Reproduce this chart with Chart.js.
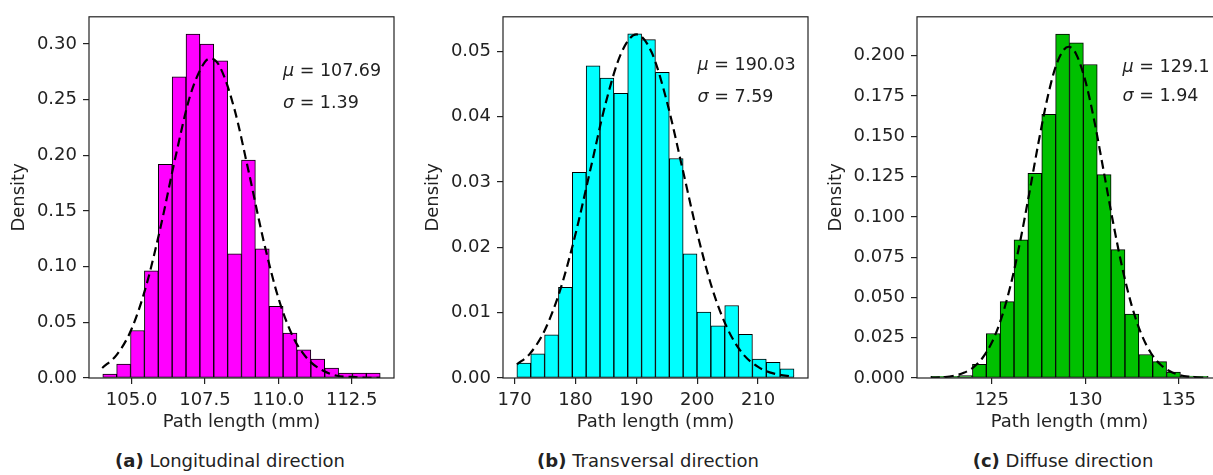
<!DOCTYPE html>
<html>
<head>
<meta charset="utf-8">
<script src="https://cdn.jsdelivr.net/npm/chart.js@4.4.1/dist/chart.umd.min.js"></script>
<style>
  body { margin: 0; width: 1213px; height: 475px; overflow: hidden; background: #fff; position: relative; font-family: "DejaVu Sans", sans-serif; }
  canvas { position: absolute; top: 0; }
  .cap { position: absolute; top: 450px; font-size: 18px; line-height: 21px; color: #222; transform: translateX(-50%); white-space: nowrap; }
</style>
</head>
<body>
<canvas id="histA" width="391" height="435" style="left:9px"></canvas>
<canvas id="histB" width="391" height="435" style="left:423px"></canvas>
<canvas id="histC" width="402" height="435" style="left:826px"></canvas>
<div class="cap" style="left:230px"><b>(a)</b> Longitudinal direction</div>
<div class="cap" style="left:648px"><b>(b)</b> Transversal direction</div>
<div class="cap" style="left:1063px"><b>(c)</b> Diffuse direction</div>
<script>
// (a) longitudinal
const binStartA = 104.02, binWidthA = 0.4725;
const densityA = [0.0035, 0.0124, 0.0427, 0.0963, 0.192, 0.2705, 0.309, 0.300, 0.285, 0.1116,
                  0.1957, 0.116, 0.0645, 0.0403, 0.0253, 0.017, 0.009, 0.0044, 0.0044, 0.0044];
const fitXA = [104.0, 104.5, 105.0, 105.5, 106.0, 106.5, 107.0, 107.5, 107.7, 108.0, 108.5,
               109.0, 109.5, 110.0, 110.5, 111.0, 111.5, 112.0, 112.5, 113.0, 113.47];
const fitYA = [0.009, 0.021, 0.044, 0.083, 0.137, 0.199, 0.254, 0.284, 0.287, 0.280, 0.242,
               0.184, 0.123, 0.072, 0.037, 0.017, 0.007, 0.002, 0.001, 0.0002, 0.0001];
const xTicksA = [105, 107.5, 110, 112.5];
const yTicksA = [0, 0.05, 0.10, 0.15, 0.20, 0.25, 0.30];

// (b) transversal
const binStartB = 170.38, binWidthB = 2.276;
const densityB = [0.0023, 0.0037, 0.0066, 0.0139, 0.0315, 0.0478, 0.0459, 0.0436, 0.0527, 0.0518,
                  0.0468, 0.0336, 0.0190, 0.0101, 0.0080, 0.0111, 0.0067, 0.0029, 0.0024, 0.0014];
const fitXB = [170.4, 172.5, 175, 177.5, 180, 182.5, 185, 187.5, 190, 192.5,
               195, 197.5, 200, 202.5, 205, 207.5, 210, 212.5, 215.9];
const fitYB = [0.0021, 0.0037, 0.0074, 0.0135, 0.0220, 0.0321, 0.0422, 0.0497, 0.0526, 0.0499,
               0.0424, 0.0324, 0.0222, 0.0136, 0.0075, 0.0037, 0.0017, 0.0007, 0.0002];
const xTicksB = [170, 180, 190, 200, 210];
const yTicksB = [0, 0.01, 0.02, 0.03, 0.04, 0.05];

// (c) diffuse
const binStartC = 121.74, binWidthC = 0.7415;
const densityC = [0.001, 0.001, 0.0015, 0.0085, 0.0276, 0.0474, 0.0858, 0.127, 0.1637, 0.2135,
                  0.208, 0.1946, 0.1262, 0.0797, 0.0396, 0.0146, 0.0102, 0.0037, 0.0012, 0.001];
const fitXC = [121.74, 122.5, 123.0, 123.5, 124.0, 124.5, 125.0, 125.5, 126.0, 126.5, 127.0,
               127.5, 128.0, 128.5, 129.1, 129.5, 130.0, 130.5, 131.0, 131.5, 132.0, 132.5,
               133.0, 133.5, 134.0, 134.5, 135.0, 135.5, 136.57];
const fitYC = [0.0002, 0.0006, 0.0015, 0.0032, 0.0065, 0.0124, 0.0220, 0.0367, 0.0573, 0.0838, 0.1144,
               0.1463, 0.1751, 0.1960, 0.2056, 0.2013, 0.1846, 0.1585, 0.1273, 0.0957, 0.0673, 0.0442,
               0.0272, 0.0157, 0.0085, 0.0043, 0.0020, 0.0009, 0.0001];
const xTicksC = [125, 130, 135];
const yTicksC = [0, 0.025, 0.05, 0.075, 0.1, 0.125, 0.15, 0.175, 0.2];

const FONT = 'DejaVu Sans';
const INK = '#222';
const SIZE = 18;

// frame around the plot + mu / sigma text
const frameAndStats = {
  id: 'frameAndStats',
  afterDatasetsDraw(chart, args, opts) {
    const { ctx, chartArea: a } = chart;
    ctx.save();
    ctx.strokeStyle = INK;
    ctx.lineWidth = 1.2;
    ctx.strokeRect(a.left, a.top, a.right - a.left, a.bottom - a.top);
    ctx.fillStyle = INK;
    ctx.textBaseline = 'middle';
    const x = a.left + opts.fx * (a.right - a.left);
    const lines = [['\u03bc', opts.mu, opts.fyMu], ['\u03c3', opts.sigma, opts.fySigma]];
    lines.forEach(([sym, val, fy]) => {
      const y = a.top + fy * (a.bottom - a.top);
      ctx.font = 'italic 17.5px "' + FONT + '"';
      ctx.fillText(sym, x, y);
      const w = ctx.measureText(sym).width;
      ctx.font = '17.5px "' + FONT + '"';
      ctx.fillText(' = ' + val, x + w, y);
    });
    ctx.restore();
  }
};

function axisGrid() {
  return { drawOnChartArea: false, drawTicks: true, tickLength: 6, color: INK, lineWidth: 1.2, offset: false };
}

function makeHist(id, p) {
  const bars = p.density.map((d, i) => ({ x: p.binStart + p.binWidth * (i + 0.5), y: d }));
  const fit = p.fitX.map((x, i) => ({ x: x, y: p.fitY[i] }));
  return new Chart(document.getElementById(id), {
    type: 'bar',
    data: {
      datasets: [
        {
          type: 'line', data: fit, order: 0,
          borderColor: '#000', borderWidth: 2.2, borderDash: [9, 5],
          pointRadius: 0, fill: false, cubicInterpolationMode: 'monotone'
        },
        {
          type: 'bar', data: bars, order: 1,
          backgroundColor: p.color, borderColor: '#000', borderWidth: 1,
          borderSkipped: false, barPercentage: 1, categoryPercentage: 1
        }
      ]
    },
    options: {
      responsive: false,
      animation: false,
      layout: { padding: { top: p.top, right: 6, bottom: 2, left: 0 } },
      plugins: {
        legend: { display: false },
        tooltip: { enabled: false },
        frameAndStats: p.stats
      },
      scales: {
        x: {
          type: 'linear', min: p.xMin, max: p.xMax, offset: false,
          afterBuildTicks: s => { s.ticks = p.xTicks.map(v => ({ value: v })); },
          afterFit: s => { s.height = 55; },
          grid: axisGrid(),
          border: { display: false },
          ticks: {
            font: { family: FONT, size: SIZE }, color: INK, padding: 6, maxRotation: 0, autoSkip: false,
            callback: v => v.toFixed(p.xDec)
          },
          title: { display: true, text: 'Path length (mm)', color: INK, font: { family: FONT, size: SIZE }, padding: 0 }
        },
        y: {
          type: 'linear', min: 0, max: p.yMax,
          afterBuildTicks: s => { s.ticks = p.yTicks.map(v => ({ value: v })); },
          afterFit: s => { s.width = p.yAxisW; },
          grid: axisGrid(),
          border: { display: false },
          ticks: {
            font: { family: FONT, size: SIZE }, color: INK, padding: 6, autoSkip: false,
            callback: v => v.toFixed(p.yDec)
          },
          title: { display: true, text: 'Density', color: INK, font: { family: FONT, size: SIZE }, padding: 0 }
        }
      }
    },
    plugins: [frameAndStats]
  });
}

makeHist('histA', {
  binStart: binStartA, binWidth: binWidthA, density: densityA, fitX: fitXA, fitY: fitYA,
  xTicks: xTicksA, yTicks: yTicksA, xMin: 103.55, xMax: 113.94, yMax: 0.3245,
  xDec: 1, yDec: 2, yAxisW: 80, top: 12, color: '#ff00ff',
  stats: { mu: '107.69', sigma: '1.39', fx: 0.636, fyMu: 0.150, fySigma: 0.240 }
});
makeHist('histB', {
  binStart: binStartB, binWidth: binWidthB, density: densityB, fitX: fitXB, fitY: fitYB,
  xTicks: xTicksB, yTicks: yTicksB, xMin: 168.1, xMax: 218.2, yMax: 0.0553,
  xDec: 0, yDec: 2, yAxisW: 80, top: 11, color: '#00ffff',
  stats: { mu: '190.03', sigma: '7.59', fx: 0.638, fyMu: 0.134, fySigma: 0.223 }
});
makeHist('histC', {
  binStart: binStartC, binWidth: binWidthC, density: densityC, fitX: fitXC, fitY: fitYC,
  xTicks: xTicksC, yTicks: yTicksC, xMin: 121.0, xMax: 137.31, yMax: 0.2242,
  xDec: 0, yDec: 3, yAxisW: 91, top: 11, color: '#00c000',
  stats: { mu: '129.1', sigma: '1.94', fx: 0.674, fyMu: 0.139, fySigma: 0.221 }
});
</script>
</body>
</html>
